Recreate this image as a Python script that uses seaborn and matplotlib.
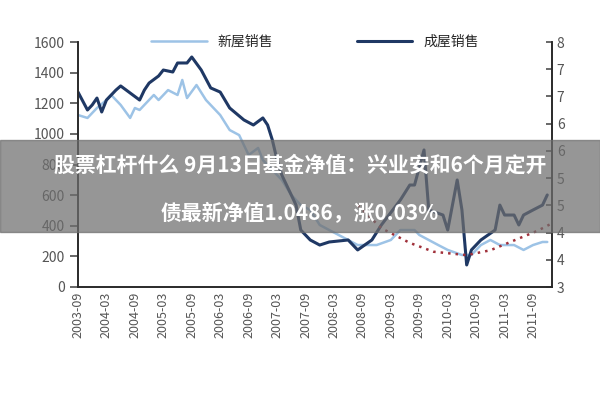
import matplotlib
matplotlib.use("Agg")
import matplotlib.pyplot as plt
import seaborn as sns
import pandas as pd

sns.set_theme(style="white")
plt.rcParams['font.family'] = ['Noto Sans CJK SC', 'DejaVu Sans']

dark_m = [0,2,3,4,5,6,8,9,11,13,14,15,17,18,20,21,23,24,26,28,30,32,35,37,39,40,41,42,43,44,46,47,49,51,53,57,59,62,64,68,70,71,73,74,77,78,80,81,82,83,85,88,89,90,92,93,94,96,98,99]
dark_v = [1273,1156,1189,1234,1143,1221,1286,1313,1267,1221,1286,1332,1378,1417,1404,1463,1463,1502,1417,1300,1273,1169,1091,1058,1104,1058,960,829,731,666,535,372,307,274,294,307,242,307,405,568,666,666,895,503,470,372,699,503,144,242,307,372,535,470,470,405,470,503,535,601]
light_m = [0,2,4,6,7,9,11,12,13,14,16,17,19,21,22,23,25,27,30,32,34,35,36,38,39,41,43,45,47,49,51,53,57,59,61,63,66,68,71,72,74,76,78,81,83,85,87,89,92,94,96,98,99]
light_v = [1123,1104,1169,1221,1254,1189,1104,1169,1156,1189,1254,1221,1286,1254,1352,1234,1319,1221,1123,1025,992,927,862,908,829,764,699,601,535,503,405,372,307,274,274,274,307,372,372,340,307,274,242,209,209,274,307,274,274,242,274,294,294]
red_m = [59,64,70,75,82,87,92,97,100]
red_v = [4.67,4.2,3.9,3.72,3.65,3.75,3.95,4.15,4.3]
tick_m = list(range(0, 97, 6))
tick_labels = ["2003-09","2004-03","2004-09","2005-03","2005-09","2006-03","2006-09","2007-03","2007-09","2008-03","2008-09","2009-03","2009-09","2010-03","2010-09","2011-03","2011-09"]
right_labels = ["3","4","4","5","5","6","6","7","7","8"]

fig = plt.figure(figsize=(6,4), dpi=100)
ax = fig.add_axes([0.13, 0.2825, 0.79, 0.6125])
df_d = pd.DataFrame({"m": dark_m, "v": dark_v})
df_l = pd.DataFrame({"m": light_m, "v": light_v})
sns.lineplot(data=df_l, x="m", y="v", ax=ax, color="#9dc3e6", lw=1.8, label="新屋销售")
sns.lineplot(data=df_d, x="m", y="v", ax=ax, color="#1f3864", lw=2.2, label="成屋销售")
ax.set_xlim(0, 100)
ax.set_ylim(0, 1600)
ax.set_yticks(range(0, 1601, 200))
ax.set_xticks(tick_m)
ax.set_xticklabels(tick_labels, rotation=90, fontsize=9, color="#555555")
ax.tick_params(axis="y", labelsize=10, colors="#555555")
ax.tick_params(axis="x", direction="in", length=4, color="#555555")
ax.set_xlabel(""); ax.set_ylabel("")
ax.spines["top"].set_visible(False)
for s in ["left", "right", "bottom"]:
    ax.spines[s].set_color("#555555")
ax.legend(loc="upper center", bbox_to_anchor=(0.5, 1.08), ncol=2, frameon=False, fontsize=10, handlelength=4, columnspacing=6)

ax2 = ax.twinx()
ax2.plot(red_m, red_v, color="#a0303a", lw=1.8, ls=(0, (1, 2)))
ax2.set_ylim(3, 8)
ax2.set_yticks([3 + i * 5 / 9 for i in range(10)])
ax2.set_yticklabels(right_labels, fontsize=10, color="#555555")
ax2.tick_params(axis="y", direction="in", length=4, color="#555555")
ax2.spines["top"].set_visible(False)
ax2.grid(False)

fig.patches.append(plt.Rectangle((0, 0.42), 1, 0.23, transform=fig.transFigure, color="#6e6e6e", alpha=0.72, zorder=10))
fig.text(0.5, 0.588, "股票杠杆什么 9月13日基金净值：兴业安和6个月定开", ha="center", va="center", color="white", fontsize=15, fontweight="bold", zorder=11)
fig.text(0.5, 0.466, "债最新净值1.0486，涨0.03%", ha="center", va="center", color="white", fontsize=15, fontweight="bold", zorder=11)
fig.savefig("out.png", dpi=100)
